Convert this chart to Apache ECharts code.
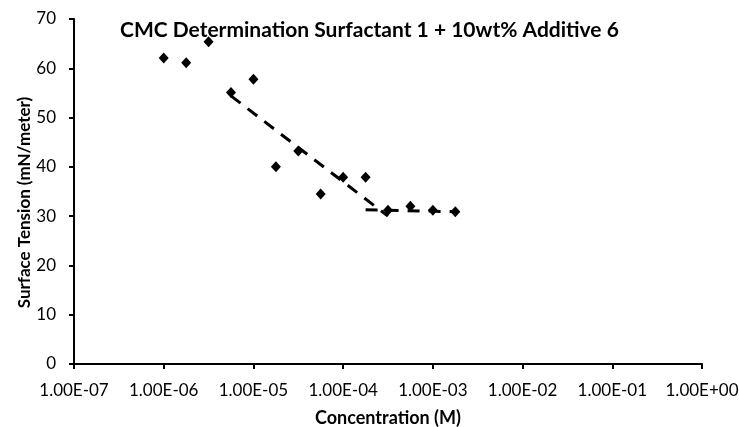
<!DOCTYPE html>
<html>
<head>
<meta charset="utf-8">
<script src="https://cdn.jsdelivr.net/npm/echarts@6/dist/echarts.min.js"></script>
<style>
  html, body { margin: 0; padding: 0; background: #fff; }
  #chart { width: 739px; height: 427px; }
</style>
</head>
<body>
<div id="chart"></div>
<script>
// concentration (M) and measured surface tension (mN/m)
const concentration = [1.0e-6, 1.78e-6, 3.16e-6, 5.62e-6, 1.0e-5, 1.78e-5, 3.16e-5, 5.62e-5, 1.0e-4, 1.78e-4, 3.16e-4, 5.62e-4, 1.0e-3, 1.78e-3];
const tension = [62.1, 61.1, 65.4, 55.1, 57.8, 40.0, 43.2, 34.5, 37.9, 37.9, 31.2, 32.0, 31.2, 30.9];

// two dashed linear fits (below / above the CMC)
const fitBelow = [[5.62e-6, 54.4], [3.16e-4, 30.0]];
const fitAbove = [[1.78e-4, 31.3], [1.78e-3, 30.9]];

const FONT = 'Lato';

const chart = echarts.init(document.getElementById('chart'));

// Excel style label: 1.00E-07
function sciLabel(v) {
    const exp = Math.round(Math.log10(v));
    const sign = exp < 0 ? '-' : '+';
    const e = String(Math.abs(exp)).padStart(2, '0');
    return '1.00E' + sign + e;
}

chart.setOption({
    backgroundColor: '#fff',
    animation: false,
    title: {
        text: 'CMC Determination Surfactant 1 + 10wt% Additive 6',
        left: 115,
        top: 15,
        textStyle: { fontFamily: FONT, fontSize: 21, fontWeight: 'bold', color: '#000' }
    },
    // fixed plot box, no auto fitting of labels
    grid: { left: 74, right: 37, top: 19, bottom: 63, outerBoundsMode: 'none' },
    xAxis: {
        type: 'log',
        logBase: 10,
        min: 1e-7,
        max: 1,
        splitNumber: 7,
        name: 'Concentration (M)',
        nameLocation: 'middle',
        nameGap: 45,
        nameMoveOverlap: false,
        nameTextStyle: { fontFamily: FONT, fontSize: 18, fontWeight: 'bold', color: '#000' },
        axisLine: { lineStyle: { color: '#000', width: 2 } },
        axisTick: { show: true, length: 5, lineStyle: { color: '#000', width: 2 } },
        minorTick: { show: false },
        splitLine: { show: false },
        axisLabel: { fontFamily: FONT, fontSize: 17, color: '#000', margin: 18, formatter: sciLabel }
    },
    yAxis: {
        type: 'value',
        min: 0,
        max: 70,
        interval: 10,
        name: 'Surface Tension (mN/meter)',
        nameLocation: 'middle',
        nameGap: 41,
        nameMoveOverlap: false,
        nameTextStyle: { fontFamily: FONT, fontSize: 17, fontWeight: 'bold', color: '#000', padding: [0, 22, 0, 0] },
        axisLine: { show: true, lineStyle: { color: '#000', width: 2 } },
        axisTick: { show: true, length: 5, lineStyle: { color: '#000', width: 2 } },
        splitLine: { show: false },
        axisLabel: { fontFamily: FONT, fontSize: 17, color: '#000', margin: 18 }
    },
    series: [
        {
            type: 'scatter',
            symbol: 'diamond',
            symbolSize: [10, 11],
            itemStyle: { color: '#000', opacity: 1 },
            data: concentration.map((c, i) => [c, tension[i]]),
            z: 3
        },
        {
            type: 'line',
            data: fitBelow,
            showSymbol: false,
            lineStyle: { color: '#000', width: 3, type: [12, 9] },
            z: 2
        },
        {
            type: 'line',
            data: fitAbove,
            showSymbol: false,
            lineStyle: { color: '#000', width: 3, type: [12, 9] },
            z: 2
        }
    ]
});
</script>
</body>
</html>
